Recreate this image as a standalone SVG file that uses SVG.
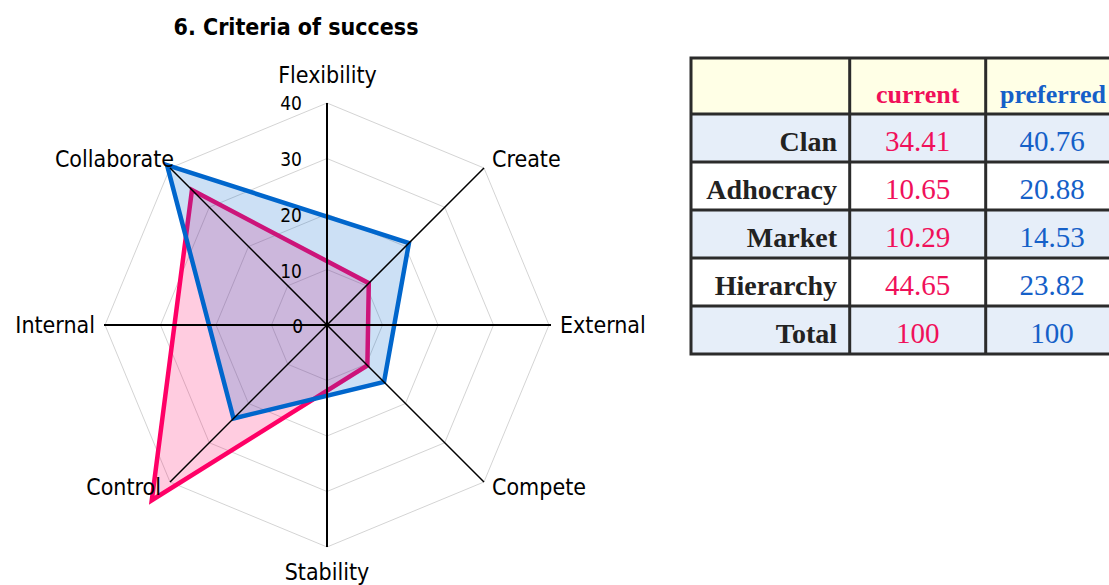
<svg xmlns="http://www.w3.org/2000/svg" width="1109" height="585" viewBox="0 0 1109 585">
<style>
.lbl{font-family:"DejaVu Sans Condensed","DejaVu Sans",sans-serif;font-size:23px;fill:#000}
.tick{font-family:"DejaVu Sans Condensed","DejaVu Sans",sans-serif;font-size:19px;fill:#000;text-anchor:end}
.title{font-family:"DejaVu Sans Condensed","DejaVu Sans",sans-serif;font-size:23px;font-weight:bold;fill:#000}
.grid{fill:none;stroke:#d4d4d4;stroke-width:1}
.axis{stroke:#000;stroke-width:2}
.diag{stroke:#000;stroke-width:1.5}
.cur{fill:#ff0066;fill-opacity:0.2;stroke:#ff0066;stroke-width:4.5}
.pref{fill:#0066cc;fill-opacity:0.2;stroke:#0066cc;stroke-width:4.5}
.tl{font-family:"Liberation Serif","Times New Roman",serif;font-size:28px;font-weight:bold;fill:#222;text-anchor:end}
.tn{font-family:"Liberation Serif","Times New Roman",serif;font-size:29px;text-anchor:middle}
.th{font-family:"Liberation Serif","Times New Roman",serif;font-size:26px;font-weight:bold;text-anchor:middle}
.pk{fill:#f0105a}
.bl{fill:#1560c8}
.tb{stroke:#2b2b2b;stroke-width:3;fill:none}
</style>
<rect width="1109" height="585" fill="#fff"/>
<text class="title" x="296" y="35" text-anchor="middle">6. Criteria of success</text>
<g id="grid">
<polygon class="grid" points="327,269.5 366.24,285.76 382.5,325 366.24,364.24 327,380.5 287.76,364.24 271.5,325 287.76,285.76"/>
<polygon class="grid" points="327,214 405.49,246.51 438,325 405.49,403.49 327,436 248.51,403.49 216,325 248.51,246.51"/>
<polygon class="grid" points="327,158.5 444.73,207.27 493.5,325 444.73,442.73 327,491.5 209.27,442.73 160.5,325 209.27,207.27"/>
<polygon class="grid" points="327,103 483.98,168.02 549,325 483.98,481.98 327,547 170.02,481.98 105,325 170.02,168.02"/>
</g>
<g id="series-current">
<polygon class="cur" points="191.96,189.96 368.8,283.2 367.38,365.38 151.78,500.22"/>
</g>
<g id="series-preferred">
<polygon class="pref" points="167.04,165.04 408.94,243.06 384.02,382.02 233.52,418.48"/>
</g>
<g id="connectors">
<line class="axis" x1="327" y1="103" x2="327" y2="547"/>
<line class="axis" x1="104" y1="325" x2="551" y2="325"/>
<line class="diag" x1="170.02" y1="168.02" x2="483.98" y2="481.98"/>
<line class="diag" x1="483.98" y1="168.02" x2="170.02" y2="481.98"/>
</g>
<g id="ticks">
<text class="tick" x="302" y="110">40</text>
<text class="tick" x="302" y="166">30</text>
<text class="tick" x="302" y="222">20</text>
<text class="tick" x="302" y="278">10</text>
<text class="tick" x="303" y="333">0</text>
</g>
<g id="node-flexibility"><text class="lbl" x="327.5" y="83" text-anchor="middle">Flexibility</text></g>
<g id="node-create"><text class="lbl" x="492" y="167">Create</text></g>
<g id="node-external"><text class="lbl" x="560" y="333">External</text></g>
<g id="node-compete"><text class="lbl" x="492" y="495">Compete</text></g>
<g id="node-stability"><text class="lbl" x="327" y="580" text-anchor="middle">Stability</text></g>
<g id="node-control"><text class="lbl" x="161" y="495" text-anchor="end">Control</text></g>
<g id="node-internal"><text class="lbl" x="95" y="333" text-anchor="end">Internal</text></g>
<g id="node-collaborate"><text class="lbl" x="174" y="167" text-anchor="end">Collaborate</text></g>
<g id="table">
<rect x="691" y="58" width="430" height="56" fill="#ffffe6"/>
<rect x="691" y="114" width="430" height="48" fill="#e6eef9"/>
<rect x="691" y="162" width="430" height="48" fill="#fff"/>
<rect x="691" y="210" width="430" height="48" fill="#e6eef9"/>
<rect x="691" y="258" width="430" height="48" fill="#fff"/>
<rect x="691" y="306" width="430" height="48" fill="#e6eef9"/>
<rect class="tb" x="691" y="58" width="430" height="296"/>
<path class="tb" d="M849.7,58V354M985.7,58V354M691,114H1121M691,162H1121M691,210H1121M691,258H1121M691,306H1121"/>
<text class="th pk" x="917.7" y="103">current</text>
<text class="th bl" x="1053" y="103">preferred</text>
<text class="tl" x="837" y="151">Clan</text>
<text class="tl" x="837" y="199">Adhocracy</text>
<text class="tl" x="837" y="247">Market</text>
<text class="tl" x="837" y="295">Hierarchy</text>
<text class="tl" x="837" y="343">Total</text>
<text class="tn pk" x="917.7" y="151">34.41</text>
<text class="tn pk" x="917.7" y="199">10.65</text>
<text class="tn pk" x="917.7" y="247">10.29</text>
<text class="tn pk" x="917.7" y="295">44.65</text>
<text class="tn pk" x="917.7" y="343">100</text>
<text class="tn bl" x="1052" y="151">40.76</text>
<text class="tn bl" x="1052" y="199">20.88</text>
<text class="tn bl" x="1052" y="247">14.53</text>
<text class="tn bl" x="1052" y="295">23.82</text>
<text class="tn bl" x="1052" y="343">100</text>
</g>
</svg>
